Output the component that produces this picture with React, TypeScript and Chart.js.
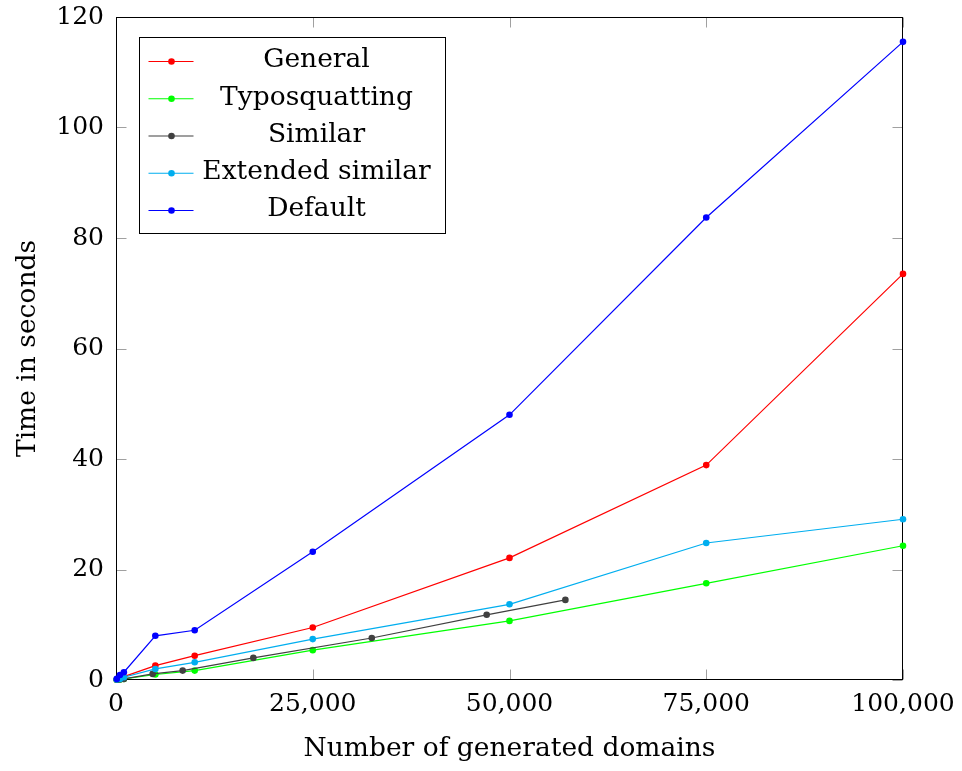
import React, { useEffect, useRef } from "react";
import { Chart, registerables } from "chart.js";

Chart.register(...registerables);

const seriesNames = ["General", "Typosquatting", "Similar", "Extended similar", "Default"];
const seriesColors = ["#ff0000", "#00ff00", "#404040", "#00aeef", "#0000ff"];

const commonX = [100, 500, 1000, 5000, 10000, 25000, 50000, 75000, 100000];
const generalY = [0.1, 0.3, 0.6, 2.6, 4.4, 9.5, 22.1, 38.9, 73.5];
const typoY = [0.05, 0.1, 0.2, 1.0, 1.7, 5.4, 10.7, 17.5, 24.3];
const similarX = [100, 500, 1000, 4660, 8470, 17450, 32500, 47100, 57100];
const similarY = [0.05, 0.1, 0.2, 1.1, 1.7, 4.0, 7.6, 11.8, 14.5];
const extendedY = [0.1, 0.2, 0.5, 2.0, 3.2, 7.4, 13.7, 24.8, 29.1];
const defaultY = [0.2, 0.9, 1.4, 8.0, 9.0, 23.2, 48.0, 83.7, 115.5];

const xTicks = [0, 25000, 50000, 75000, 100000];
const yTicks = [0, 20, 40, 60, 80, 100, 120];

const xTitle = "Number of generated domains";
const yTitle = "Time in seconds";

const FONT = "'DejaVu Serif', serif";
const TICK_SIZE = 25;
const TEXT_SIZE = 26.5;

function pts(xs: number[], ys: number[]) {
  return xs.map((x, i) => ({ x, y: ys[i] }));
}

const framePlugin = {
  id: "frameTicks",
  beforeDatasetsDraw(chart: any) {
    const { ctx, chartArea, scales } = chart;
    const { left, right, top, bottom } = chartArea;
    const L = Math.round(left) + 0.5;
    const R = Math.round(right) - 0.5;
    const T = Math.round(top) + 0.5;
    const B = Math.round(bottom) - 0.5;
    const tl = 10;
    ctx.save();
    ctx.strokeStyle = "#a0a0a0";
    ctx.lineWidth = 1;
    ctx.beginPath();
    xTicks.forEach((v) => {
      const px = Math.round(scales.x.getPixelForValue(v)) + 0.5;
      ctx.moveTo(px, B);
      ctx.lineTo(px, B - tl);
      ctx.moveTo(px, T);
      ctx.lineTo(px, T + tl);
    });
    yTicks.forEach((v) => {
      const py = Math.round(scales.y.getPixelForValue(v)) + 0.5;
      ctx.moveTo(L, py);
      ctx.lineTo(L + tl, py);
      ctx.moveTo(R, py);
      ctx.lineTo(R - tl, py);
    });
    ctx.stroke();
    ctx.strokeStyle = "#000";
    ctx.strokeRect(L, T, R - L, B - T);
    ctx.restore();
  },
};

const legendPlugin = {
  id: "boxLegend",
  afterDatasetsDraw(chart: any) {
    const { ctx, chartArea } = chart;
    const bx = Math.round(chartArea.left) + 23 + 0.5;
    const by = Math.round(chartArea.top) + 20 + 0.5;
    const bw = 306;
    const bh = 196;
    ctx.save();
    ctx.fillStyle = "#fff";
    ctx.fillRect(bx, by, bw, bh);
    ctx.strokeStyle = "#000";
    ctx.lineWidth = 1;
    ctx.strokeRect(bx, by, bw, bh);
    ctx.font = `${TEXT_SIZE}px ${FONT}`;
    ctx.textAlign = "center";
    ctx.textBaseline = "middle";
    chart.data.datasets.forEach((ds: any, i: number) => {
      const ry = by + 24 + i * 37.25;
      ctx.strokeStyle = ds.borderColor;
      ctx.lineWidth = 1.2;
      ctx.beginPath();
      ctx.moveTo(bx + 9, ry);
      ctx.lineTo(bx + 54, ry);
      ctx.stroke();
      ctx.fillStyle = ds.pointBackgroundColor;
      ctx.beginPath();
      ctx.arc(bx + 32, ry, 3.3, 0, Math.PI * 2);
      ctx.fill();
      ctx.fillStyle = "#000";
      ctx.fillText(ds.label, bx + 177, ry - 1);
    });
    ctx.restore();
  },
};

function zeroPad(s: any) {
  s.paddingTop = 0;
  s.paddingBottom = 0;
  s.paddingLeft = 0;
  s.paddingRight = 0;
}

export default function App() {
  const ref = useRef<HTMLCanvasElement | null>(null);

  useEffect(() => {
    document.body.style.margin = "0";
    if (!ref.current) return;
    const seriesData = [
      pts(commonX, generalY),
      pts(commonX, typoY),
      pts(similarX, similarY),
      pts(commonX, extendedY),
      pts(commonX, defaultY),
    ];
    const datasets = seriesNames.map((name, i) => ({
      label: name,
      data: seriesData[i],
      borderColor: seriesColors[i],
      backgroundColor: seriesColors[i],
      pointBackgroundColor: seriesColors[i],
      pointBorderWidth: 0,
      pointRadius: 3.3,
      borderWidth: 1.2,
      tension: 0,
      fill: false,
      clip: false as any,
      order: seriesNames.length - i,
    }));
    const tickFont = { family: FONT, size: TICK_SIZE };
    const titleFont = { family: FONT, size: TEXT_SIZE };
    const chart = new Chart(ref.current, {
      type: "line",
      data: { datasets },
      plugins: [framePlugin, legendPlugin],
      options: {
        animation: false,
        responsive: false,
        events: [],
        layout: { padding: { top: 17, right: 59, left: 0, bottom: 0 } },
        plugins: { legend: { display: false }, tooltip: { enabled: false } },
        scales: {
          x: {
            type: "linear",
            min: 0,
            max: 100000,
            grid: { display: false, drawTicks: false },
            border: { display: false },
            afterBuildTicks: (s: any) => {
              s.ticks = xTicks.map((v) => ({ value: v }));
            },
            afterFit: (s: any) => {
              s.height = 91;
              zeroPad(s);
            },
            ticks: {
              font: tickFont,
              color: "#000",
              padding: 9,
              maxRotation: 0,
              autoSkip: false,
              callback: (v: any) => Number(v).toLocaleString("en-US"),
            },
            title: {
              display: true,
              text: xTitle,
              font: titleFont,
              color: "#000",
              padding: { top: 0, bottom: 6 },
            },
          },
          y: {
            type: "linear",
            min: 0,
            max: 120,
            grid: { display: false, drawTicks: false },
            border: { display: false },
            afterBuildTicks: (s: any) => {
              s.ticks = yTicks.map((v) => ({ value: v }));
            },
            afterFit: (s: any) => {
              s.width = 116;
              zeroPad(s);
            },
            ticks: {
              font: tickFont,
              color: "#000",
              padding: 12,
              autoSkip: false,
              callback: (v: any) => String(v),
            },
            title: {
              display: true,
              text: yTitle,
              font: titleFont,
              color: "#000",
              padding: { top: 12, bottom: 0 },
            },
          },
        },
      },
    });
    return () => chart.destroy();
  }, []);

  return (
    <div style={{ width: 962, height: 771 }}>
      <canvas ref={ref} width={962} height={771} style={{ display: "block" }} />
    </div>
  );
}
